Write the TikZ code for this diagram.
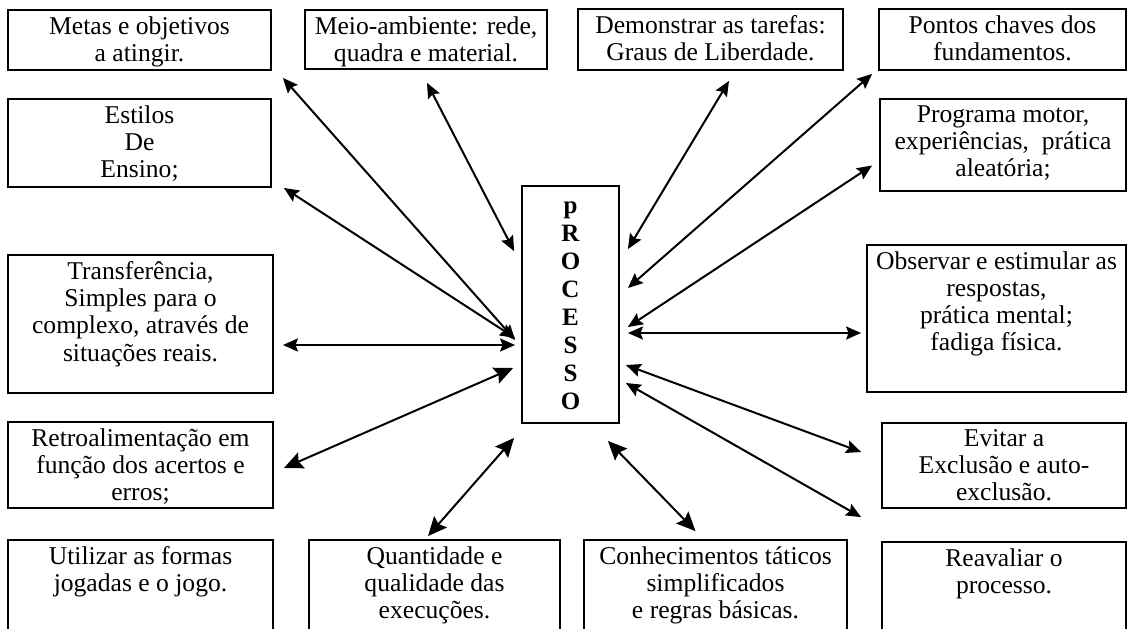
\documentclass[tikz,border=0pt]{standalone}
\usepackage{fontspec}
\setmainfont{Liberation Serif}
\usetikzlibrary{arrows.meta,fit}
\begin{document}
\begin{tikzpicture}[x=0.5pt,y=-0.5pt,
  box/.style={draw, line width=0.9pt, inner sep=0pt},
  txt/.style={anchor=north, align=center, inner sep=0pt, font=\fontsize{12.8}{13.6}\selectfont},
  link/.style={line width=1pt, {Stealth[length=7.5pt,width=6.5pt,inset=1.2pt]}-{Stealth[length=7.5pt,width=6.5pt,inset=1.2pt]}},
  linkbig/.style={line width=1pt, {Stealth[length=9.5pt,width=8.5pt,inset=1.5pt]}-{Stealth[length=9.5pt,width=8.5pt,inset=1.5pt]}},
]
\useasboundingbox (0,0) rectangle (1129,628);
% boxes
\node[box, fit={(8,10) (271,70)}] (metas) {};
\node[box, fit={(305,10) (547,69)}] (meio) {};
\node[box, fit={(578,9) (843,70)}] (dem) {};
\node[box, fit={(879,9) (1126,70)}] (pontos) {};
\node[box, fit={(8,99) (271,187)}] (estilos) {};
\node[box, fit={(880,99) (1126,191)}] (prog) {};
\node[box, fit={(8,255) (273,393)}] (transf) {};
\node[box, fit={(522,186) (619,423)}] (proc) {};
\node[box, fit={(867,245) (1126,392)}] (obs) {};
\node[box, fit={(8,422) (273,508)}] (retro) {};
\node[box, fit={(882,423) (1126,508)}] (evitar) {};
\node[box, fit={(8,540) (273,660)}] (util) {};
\node[box, fit={(309,540) (560,660)}] (quant) {};
\node[box, fit={(584,540) (847,660)}] (conh) {};
\node[box, fit={(882,542) (1126,660)}] (reav) {};
% texts
\node[txt] (metas-t) at ([yshift=-3.5pt]metas.north) {Metas e objetivos\\a atingir.};
\node[txt] (meio-t) at ([yshift=-3.5pt]meio.north) {Meio-ambiente: rede,\\quadra e material.};
\node[txt] (dem-t) at ([yshift=-3.5pt]dem.north) {Demonstrar as tarefas:\\Graus de Liberdade.};
\node[txt] (pontos-t) at ([yshift=-3.5pt]pontos.north) {Pontos chaves dos\\fundamentos.};
\node[txt] (estilos-t) at ([yshift=-3.5pt]estilos.north) {Estilos\\De\\Ensino;};
\node[txt] (prog-t) at ([yshift=-3.5pt]prog.north) {Programa motor,\\experiências,\ \ prática\\aleatória;};
\node[txt] (transf-t) at ([yshift=-3.5pt]transf.north) {Transferência,\\Simples para o\\complexo, através de\\situações reais.};
\node[txt] (obs-t) at ([yshift=-3.5pt]obs.north) {Observar e estimular as\\respostas,\\prática mental;\\fadiga física.};
\node[txt] (retro-t) at ([yshift=-3.5pt]retro.north) {Retroalimentação em\\função dos acertos e\\erros;};
\node[txt] (evitar-t) at ([yshift=-3.5pt]evitar.north) {Evitar a\\Exclusão e auto-\\exclusão.};
\node[txt] (util-t) at ([yshift=-3.5pt]util.north) {Utilizar as formas\\jogadas e o jogo.};
\node[txt] (quant-t) at ([yshift=-3.5pt]quant.north) {Quantidade e\\qualidade das\\execuções.};
\node[txt] (conh-t) at ([yshift=-3.5pt]conh.north) {Conhecimentos táticos\\simplificados\\e regras básicas.};
\node[txt] (reav-t) at ([yshift=-3.5pt]reav.north) {Reavaliar o\\processo.};
\node[anchor=north, align=center, inner sep=0pt, font=\bfseries\fontsize{12.5}{14}\selectfont] (proc-t) at ([yshift=-8pt]proc.north) {p\\R\\O\\C\\E\\S\\S\\O};
% connectors
\draw[link] ([shift={(11,7)}]metas.south east) -- ([shift={(-6,35.5)}]proc.west);
\draw[link] ([shift={(1,13)}]meio.south) -- ([shift={(-7,66)}]proc.north west);
\draw[link] ([shift={(12,0)}]estilos.south east) -- ([shift={(-6,33.5)}]proc.west);
\draw[link] ([shift={(9,21)}]transf.east) -- ([shift={(-6,40.5)}]proc.west);
\draw[linkbig] ([shift={(10,3)}]retro.east) -- ([shift={(-8,63.5)}]proc.west);
\draw[linkbig] ([shift={(-6.5,-3)}]quant.north) -- ([shift={(-7,14)}]proc.south west);
\draw[linkbig] ([shift={(-20,-8)}]conh.north) -- ([shift={(-12,17)}]proc.south east);
\draw[link] ([shift={(18.5,10)}]dem.south) -- ([shift={(8,64)}]proc.north east);
\draw[link] ([shift={(-6,3)}]pontos.south west) -- ([shift={(8,-16.5)}]proc.east);
\draw[link] ([shift={(-7,20.5)}]prog.west) -- ([shift={(8,22.5)}]proc.east);
\draw[link] ([shift={(-5,14.5)}]obs.west) -- ([shift={(8,28.5)}]proc.east);
\draw[link] ([shift={(-20,-13.5)}]evitar.west) -- ([shift={(6,60.5)}]proc.east);
\draw[link] ([shift={(-20,-24)}]reav.north west) -- ([shift={(6,78.5)}]proc.east);
\end{tikzpicture}
\end{document}
